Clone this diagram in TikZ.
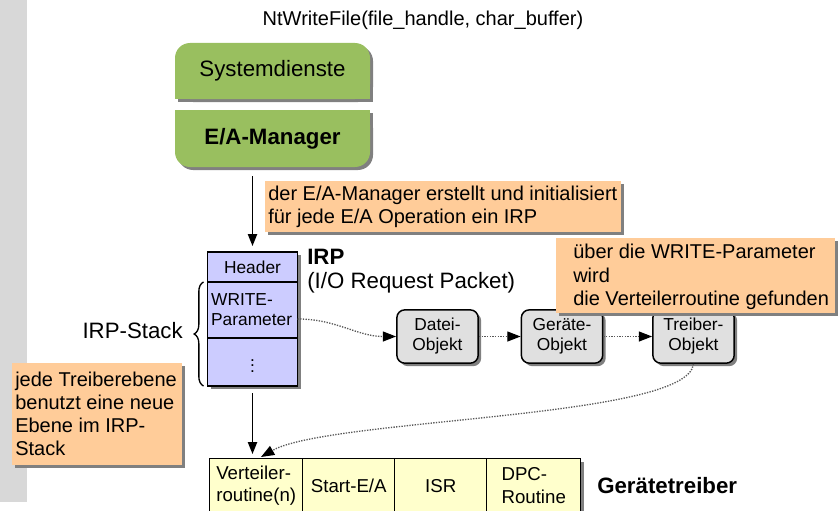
\documentclass[tikz,border=0pt]{standalone}
\usepackage{fontspec}
\setmainfont{Liberation Sans}
\usepackage{amssymb}
\usepackage{tikz}
\usetikzlibrary{arrows.meta,shadows,decorations.pathreplacing,positioning}

\definecolor{stripgray}{RGB}{216,216,216}
\definecolor{shadowgray}{RGB}{128,128,128}
\definecolor{managergreen}{RGB}{153,191,95}
\definecolor{noteorange}{RGB}{255,204,153}
\definecolor{irpblue}{RGB}{204,204,255}
\definecolor{objgray}{RGB}{224,224,224}
\definecolor{tabyellow}{RGB}{255,255,204}

\newcommand{\bigsize}{\fontsize{16.7}{20}\selectfont}
\newcommand{\notesize}{\fontsize{15}{17.4}\selectfont}
\newcommand{\boxsize}{\fontsize{13}{15}\selectfont}
\newcommand{\tabsize}{\fontsize{14}{16.8}\selectfont}

\tikzset{
  shadowed/.style={general shadow={fill=shadowgray, shadow xshift=2.25pt, shadow yshift=-2.25pt}},
  greenpart/.style={minimum width=146.25pt, minimum height=42.5pt, inner sep=0pt, font=\bigsize},
  irpcell/.style={draw, line width=1.1pt, fill=irpblue, shadowed, minimum width=67.5pt, inner sep=2.75pt, outer sep=0pt, font=\boxsize},
  objbox/.style={draw, line width=1.1pt, fill=objgray, rounded corners=6pt, shadowed, minimum width=61pt, minimum height=40pt, align=center, font=\boxsize},
  tabcell/.style={draw, line width=1.1pt, fill=tabyellow, shadowed, anchor=north west, minimum height=40.5pt, align=left, font=\tabsize},
  notetext/.style={anchor=west, align=left, inner sep=0pt, font=\notesize},
  arr/.style={line width=1pt, -{Triangle[length=9pt,width=7pt]}},
  dotarr/.style={densely dotted, line width=1pt, draw=gray!70!black, -{Triangle[length=10pt,width=7.5pt,color=black]}},
}

\begin{document}
\begin{tikzpicture}[x=0.75pt,y=-0.75pt]
\useasboundingbox (0,0) rectangle (838,510);
\clip (0,0) rectangle (838,510);
\fill[stripgray] (0,0) rectangle (27,502);

\node[font=\notesize] (ntwrite) at (423,20) {NtWriteFile(file\_handle, char\_buffer)};

% Systemdienste / E/A-Manager
\foreach \dx/\col in {3/shadowgray,0/managergreen} {
\fill[\col, rounded corners=11.25pt] (175+\dx,43+\dx) rectangle (370+\dx,99+\dx);
\fill[\col] (175+\dx,75+\dx) rectangle (370+\dx,99+\dx);
\fill[\col, rounded corners=11.25pt] (175+\dx,110+\dx) rectangle (370+\dx,167+\dx);
\fill[\col] (175+\dx,110+\dx) rectangle (370+\dx,140+\dx);
}
\node[greenpart] (sysdienste) at (272.5,71) {Systemdienste};
\node[greenpart, font=\bigsize\bfseries] (eamanager) at (272.5,138.5) {E/A-Manager};

\fill[noteorange, shadowed] (265,181) rectangle (621,232);
\node[notetext] (irpnote) at (268,206.5) {der E/A-Manager erstellt und initialisiert\\f\"ur jede E/A Operation ein IRP};

\node[irpcell, anchor=north, minimum height=22.5pt] (header) at (252.5,252) {Header};
\node[irpcell, below=0pt of header, minimum height=42pt, text width=62pt, align=left] (param) {WRITE-\\Parameter};
\node[irpcell, below=0pt of param, minimum height=36pt] (stackdots) {$\vdots$};
\draw[arr, shorten <=6.75pt, shorten >=4.5pt] (eamanager.south -| header.north) -- (header.north);

\node[font=\bigsize\bfseries, anchor=west, inner sep=0pt] (irptitle) at (307,257) {IRP};
\node[font=\bigsize, anchor=west, inner sep=0pt] (irpfull) at (307,283) {(I/O Request Packet)};

\draw[line width=1pt, decorate, decoration={brace, amplitude=7pt}] ([xshift=-3pt]stackdots.south west) -- ([xshift=-3pt]param.north west);
\node[font=\bigsize, anchor=east, inner sep=0pt] (irpstack) at (183,331) {IRP-Stack};

\foreach \n/\x/\t in {datei/437.5/Datei-, geraete/562/Ger\"ate-, treiber/693.5/Treiber-}
  \node[objbox] (\n) at (\x,336.5) {\t\\Objekt};
\draw[dotarr] ([yshift=-6.75pt]param.east) to[out=0,in=180] (datei.west);
\draw[dotarr] (datei.east) -- (geraete.west);
\draw[dotarr] (geraete.east) -- (treiber.west);

\fill[noteorange, shadowed] (556,238) rectangle (835,313);
\node[notetext] (paramnote) at (573,277) {\"uber die WRITE-Parameter\\wird\\die Verteilerroutine gefunden};

\fill[noteorange, shadowed] (12,363) rectangle (182,465);
\node[notetext] (stacknote) at (15,414) {jede Treiberebene\\benutzt eine neue\\Ebene im IRP-\\Stack};

\foreach \n/\x/\w/\t in {verteiler/209/93/{Verteiler-\\routine(n)}, starte/302/92/{Start-E/A}, isr/394/92/ISR, dpc/486/94/{DPC-\\Routine}}
  \node[tabcell, minimum width=\w*0.75pt] (\n) at (\x,458) {\t};
\node[font=\bigsize\bfseries, anchor=west, inner sep=0pt] (treiberlabel) at (597,486) {Ger\"atetreiber};

\draw[arr, shorten <=5.25pt, shorten >=3pt] (stackdots.south) -- (stackdots.south |- verteiler.north);
\draw[dotarr, shorten >=1.5pt] (treiber.south) .. controls +(-5,55) and +(70,-40) .. ([xshift=2.25pt]verteiler.north);

\end{tikzpicture}
\end{document}
